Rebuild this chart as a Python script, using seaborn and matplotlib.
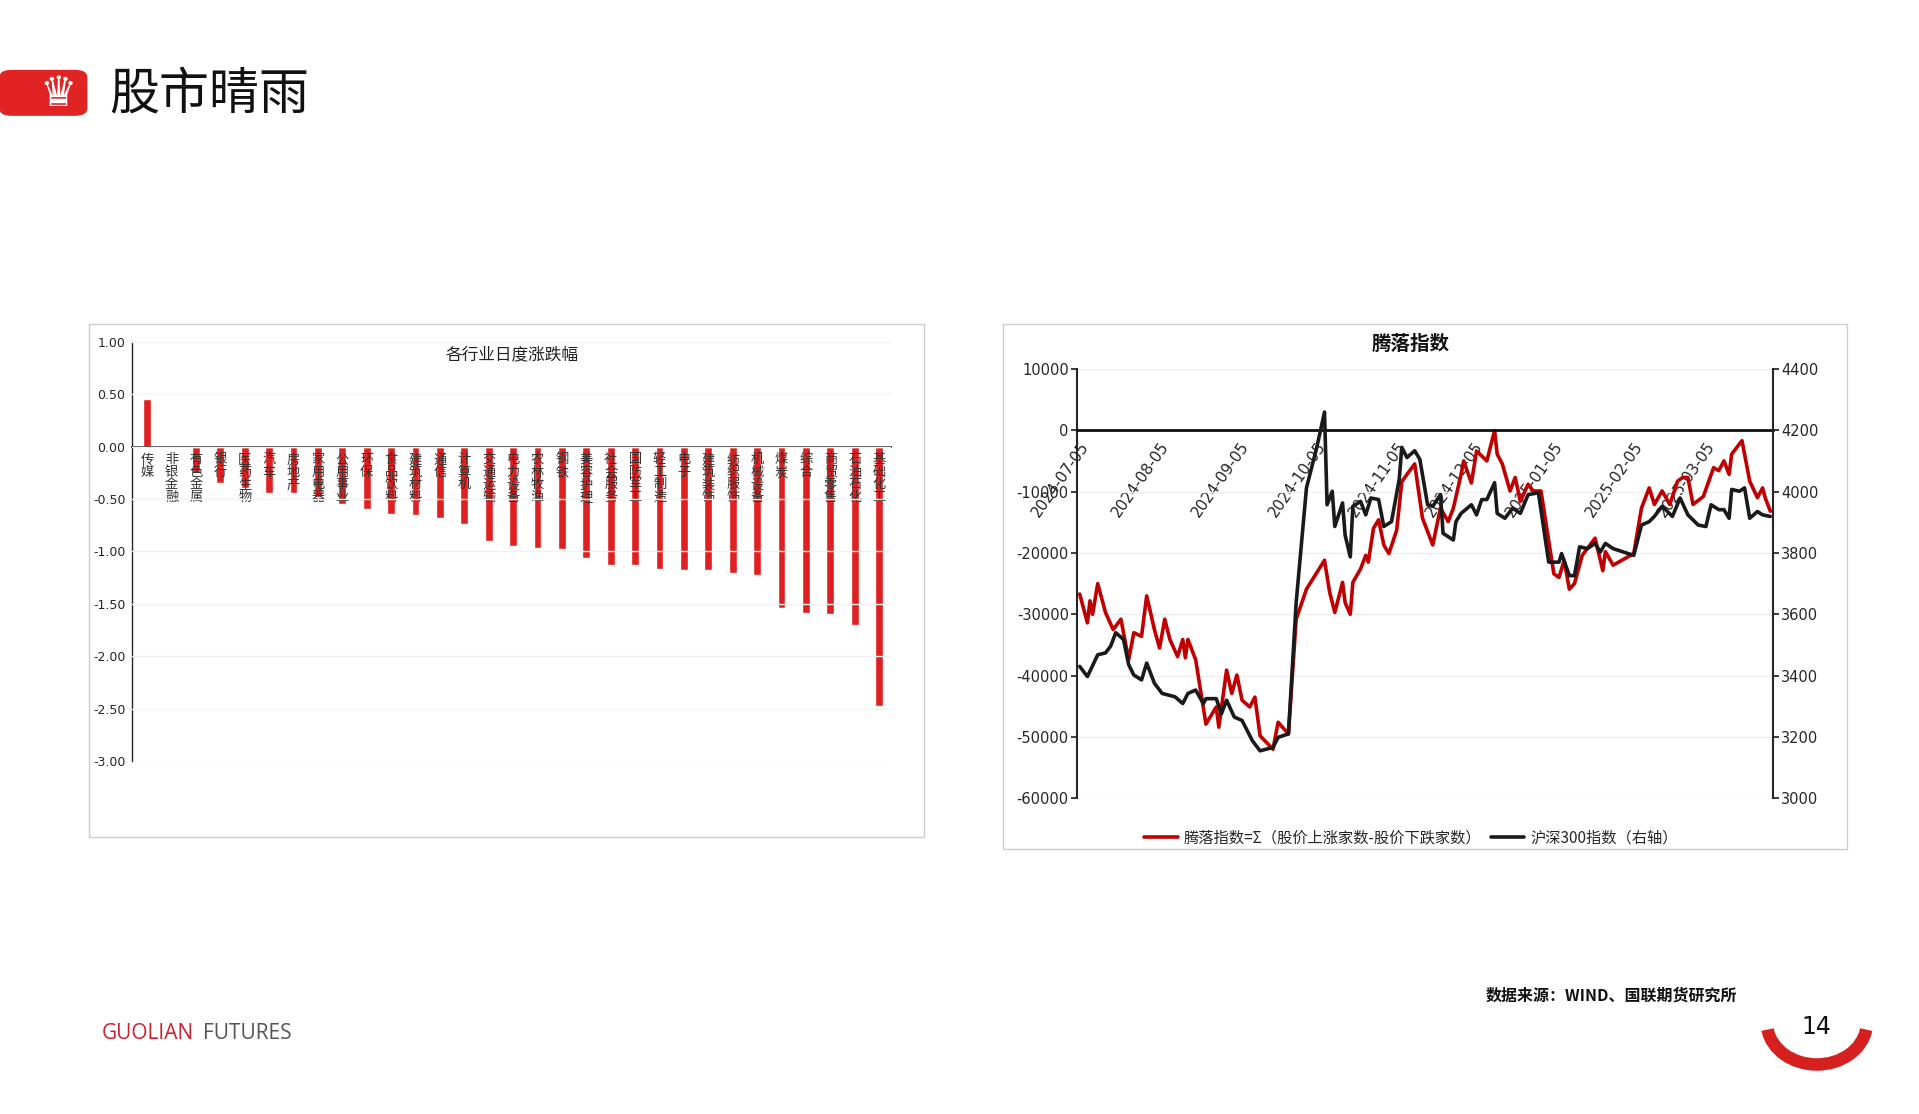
import numpy as np
import pandas as pd
import matplotlib
matplotlib.use("Agg")
import matplotlib.pyplot as plt
import seaborn as sns
from matplotlib.patches import FancyBboxPatch, Arc

sns.set_theme(style="white")
plt.rcParams['font.family'] = ['Noto Sans CJK SC', 'DejaVu Sans']
plt.rcParams['axes.unicode_minus'] = False
plt.rcParams['axes.axisbelow'] = False

# 各行业日度涨跌幅
industries = ['传媒', '非银金融', '有色金属', '银行', '医药生物', '汽车', '房地产', '家用电器',
              '公用事业', '环保', '食品饮料', '建筑材料', '通信', '计算机', '交通运输', '电力设备',
              '农林牧渔', '钢铁', '美容护理', '社会服务', '国防军工', '轻工制造', '电子', '建筑装饰',
              '纺织服饰', '机械设备', '煤炭', '综合', '商贸零售', '石油石化', '基础化工']
pct_change = [0.45, -0.01, -0.25, -0.35, -0.40, -0.44, -0.44, -0.48, -0.55, -0.60, -0.64, -0.65,
              -0.68, -0.74, -0.90, -0.95, -0.97, -0.98, -1.06, -1.13, -1.13, -1.17, -1.18, -1.18,
              -1.21, -1.22, -1.54, -1.59, -1.60, -1.70, -2.47]

# 腾落指数 (days since 2024-07-05)
adl_days = [0, 3, 4, 5, 7, 10, 13, 16, 19, 21, 24, 26, 29, 31, 33, 35, 38, 40, 41, 42, 45, 49, 53, 54,
            57, 59, 61, 63, 66, 68, 70, 75, 77, 81, 84, 88, 95, 97, 99, 102, 103, 105, 106, 109, 111,
            112, 114, 116, 118, 120, 123, 125, 127, 130, 133, 137, 140, 143, 145, 148, 149, 152, 154,
            158, 161, 162, 164, 167, 169, 171, 174, 176, 179, 184, 186, 188, 190, 192, 195, 200, 203,
            204, 207, 215, 218, 221, 223, 226, 229, 232, 234, 236, 238, 242, 246, 248, 250, 252, 253,
            257, 260, 263, 265, 266, 268]
adl_vals = [-26700, -31400, -27800, -30000, -25000, -29700, -32500, -30800, -37400, -33000, -33600,
            -27000, -32500, -35500, -30800, -34100, -36900, -34100, -37100, -34100, -37400, -47900,
            -45100, -48400, -39100, -42900, -39900, -44000, -45100, -43500, -49800, -52000, -47600,
            -49500, -30800, -25900, -21200, -26400, -29700, -24800, -28100, -30000, -24800, -22600,
            -20400, -21500, -16000, -14600, -18700, -20100, -16300, -8400, -7200, -5500, -14300,
            -18700, -12700, -14900, -12700, -7200, -5000, -8600, -3400, -5000, -50, -3900, -5500,
            -9900, -7700, -11600, -8800, -9900, -9900, -23400, -24000, -21200, -25900, -25000, -20400,
            -17600, -22900, -19800, -22000, -20100, -12700, -9400, -12100, -9900, -12100, -8300, -7700,
            -7700, -12100, -10800, -6100, -6600, -5000, -7200, -3900, -1700, -8300, -11000, -9400,
            -11000, -13200]

hs300_days = [0, 3, 7, 10, 12, 14, 17, 19, 21, 24, 26, 29, 32, 37, 40, 42, 45, 48, 49, 53, 55, 57, 60,
              63, 67, 70, 75, 77, 81, 84, 88, 92, 95, 96, 98, 99, 102, 103, 105, 106, 109, 111, 113,
              116, 118, 121, 124, 125, 127, 130, 132, 135, 137, 140, 141, 145, 146, 148, 152, 154, 156,
              158, 161, 162, 165, 168, 171, 174, 178, 182, 186, 187, 190, 192, 194, 197, 200, 202, 204,
              207, 215, 218, 221, 223, 226, 230, 233, 236, 240, 243, 245, 248, 250, 252, 253, 256, 258,
              260, 263, 265, 268]
hs300_vals = [3430, 3397, 3468, 3474, 3496, 3540, 3518, 3436, 3402, 3386, 3441, 3375, 3342, 3331, 3309,
              3342, 3353, 3309, 3325, 3325, 3276, 3320, 3265, 3254, 3188, 3155, 3166, 3199, 3210, 3638,
              4012, 4144, 4259, 3957, 4001, 3886, 3963, 3858, 3787, 3952, 3968, 3924, 3979, 3974, 3886,
              3902, 4040, 4144, 4111, 4133, 4105, 3957, 3952, 3990, 3864, 3842, 3902, 3929, 3957, 3924,
              3974, 3974, 4029, 3929, 3913, 3946, 3929, 3990, 3996, 3770, 3770, 3798, 3726, 3726, 3820,
              3814, 3831, 3803, 3831, 3814, 3792, 3891, 3902, 3919, 3952, 3919, 3979, 3924, 3891, 3886,
              3957, 3941, 3941, 3913, 4007, 4001, 4012, 3913, 3935, 3924, 3919]

start = pd.Timestamp('2024-07-05')
adl = pd.DataFrame({'date': start + pd.to_timedelta(adl_days, unit='D'), 'value': adl_vals})
hs = pd.DataFrame({'date': start + pd.to_timedelta(hs300_days, unit='D'), 'value': hs300_vals})
tick_dates = pd.to_datetime(['2024-07-05', '2024-08-05', '2024-09-05', '2024-10-05', '2024-11-05',
                             '2024-12-05', '2025-01-05', '2025-02-05', '2025-03-05'])

fig = plt.figure(figsize=(19.19, 11.14), dpi=100)
W, H = 1550.0, 900.0

def fx(x): return x / W
def fy(y): return 1 - y / H

# header
fig.patches.append(FancyBboxPatch((0, fy(93)), fx(70), fy(57) - fy(93),
                                  boxstyle="round,pad=0,rounding_size=0.006",
                                  transform=fig.transFigure, color='#e02424'))
fig.text(fx(47), fy(76), '♛', color='white', fontsize=30, ha='center', va='center',
         family=['DejaVu Sans'])
fig.text(fx(88), fy(76), '股市晴雨', fontsize=36, ha='left', va='center', color='#111')

# frames
for (x0, y0, x1, y1) in [(72, 262, 746, 676), (810, 262, 1492, 686)]:
    fig.patches.append(plt.Rectangle((fx(x0), fy(y1)), fx(x1 - x0), fy(y0) - fy(y1),
                                     transform=fig.transFigure, fill=False, ec='#cccccc', lw=1))

# bar chart
ax = fig.add_axes([fx(107), fy(615), fx(720 - 107), fy(276) - fy(615)])
bar_df = pd.DataFrame({'ind': industries, 'pct': pct_change})
sns.barplot(data=bar_df, x='ind', y='pct', color='#e02020', saturation=1, width=0.32, ax=ax)
ax.set_axisbelow(False)
ax.set_ylim(-3.0, 1.0)
ax.set_yticks(np.arange(-3.0, 1.01, 0.5))
ax.set_yticklabels([f'{v:.2f}' for v in np.arange(-3.0, 1.01, 0.5)], fontsize=9,
                   family=['DejaVu Sans'])
ax.yaxis.grid(True, color='#f2f2f2', lw=1)
ax.spines['bottom'].set_position(('data', 0))
ax.spines['bottom'].set_linewidth(1.2)
ax.spines['left'].set_linewidth(1)
for s in ['top', 'right']:
    ax.spines[s].set_visible(False)
ax.set_xticks(range(len(industries)))
ax.set_xticklabels(['\n'.join(n) for n in industries], fontsize=9.5, color='#333',
                   linespacing=0.95, va='top')
ax.tick_params(axis='x', length=3, pad=2, direction='out')
ax.tick_params(axis='y', length=3, pad=2)
ax.set_xlabel('')
ax.set_ylabel('')
ax.set_xlim(-0.6, len(industries) - 0.5)
ax.text(0.5, 0.99, '各行业日度涨跌幅', transform=ax.transAxes, ha='center', va='top',
        fontsize=12, color='#222')

# line chart
ax2 = fig.add_axes([fx(870), fy(645), fx(1432 - 870), fy(298) - fy(645)])
ax2.set_axisbelow(True)
ax3 = ax2.twinx()
sns.lineplot(data=adl, x='date', y='value', color='#c00000', lw=2.6, ax=ax2,
             label='腾落指数=Σ（股价上涨家数-股价下跌家数）', legend=False)
sns.lineplot(data=hs, x='date', y='value', color='#1a1a1a', lw=2.6, ax=ax3,
             label='沪深300指数（右轴）', legend=False)
ax2.set_ylim(-60000, 10000)
ax3.set_ylim(3000, 4400)
ax2.set_yticks(range(-60000, 10001, 10000))
ax3.set_yticks(range(3000, 4401, 200))
ax2.set_xlim(start - pd.Timedelta(days=1), start + pd.Timedelta(days=269))
ax2.yaxis.grid(True, color='#eeeeee', lw=1)
for a in (ax2, ax3):
    a.spines['top'].set_visible(False)
    a.set_xlabel('')
    a.set_ylabel('')
    a.tick_params(labelsize=10.5, length=4, pad=2)
    for lab in a.get_yticklabels():
        lab.set_family(['DejaVu Sans'])
ax2.spines['right'].set_visible(False)
ax3.spines['left'].set_visible(False)
ax3.spines['right'].set_linewidth(1.5)
ax2.spines['left'].set_linewidth(1.5)
ax2.spines['bottom'].set_position(('data', 0))
ax2.spines['bottom'].set_linewidth(2)
ax2.spines['bottom'].set_color('#111')
ax3.spines['bottom'].set_visible(False)
ax2.set_xticks(tick_dates)
ax2.set_xticklabels([d.strftime('%Y-%m-%d') for d in tick_dates], fontsize=11,
                    family=['DejaVu Sans'])
ax2.tick_params(axis='x', length=4, pad=2, labelrotation=55)
for lab in ax2.get_xticklabels():
    lab.set_ha('right')
    lab.set_rotation_mode('anchor')
ax2.text(0.48, 1.035, '腾落指数', transform=ax2.transAxes, ha='center', va='bottom',
         fontsize=14, fontweight='bold', color='#111')
h1, l1 = ax2.get_legend_handles_labels()
h2, l2 = ax3.get_legend_handles_labels()
ax2.legend(h1 + h2, l1 + l2, loc='upper center', bbox_to_anchor=(0.48, -0.04), ncol=2,
           frameon=False, fontsize=11, handlelength=2.2, columnspacing=0.6, handletextpad=0.4)

# footer
fig.text(fx(1200), fy(804), '数据来源：WIND、国联期货研究所', fontsize=11.5, fontweight='bold',
         ha='left', va='center', color='#111')
fig.text(fx(82), fy(835), 'GUOLIAN', fontsize=15, color='#d02030', ha='left', va='center',
         family=['Open Sans', 'DejaVu Sans'])
fig.text(fx(164), fy(835), 'FUTURES', fontsize=15, color='#555', ha='left', va='center',
         family=['Open Sans', 'DejaVu Sans'])
fig.text(fx(1467), fy(830), '14', fontsize=17, ha='center', va='center', color='#111',
         family=['DejaVu Sans'])
axc = fig.add_axes([fx(1420), fy(875), fx(95), fy(800) - fy(875)])
axc.set_xlim(-1, 1); axc.set_ylim(-1, 1); axc.axis('off')
axc.add_patch(Arc((0, 0.3), 1.7, 1.8, theta1=190, theta2=350, color='#d62020', lw=9))

fig.savefig('out.png', dpi=100)
